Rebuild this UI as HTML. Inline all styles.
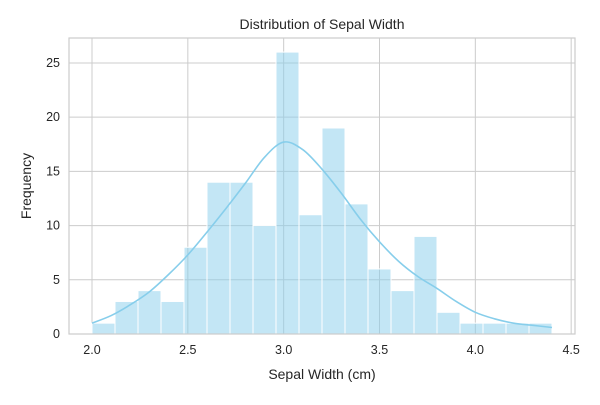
<!DOCTYPE html>
<html><head><meta charset="utf-8"><style>
body{margin:0;background:#fff;font-family:"Liberation Sans","DejaVu Sans",sans-serif;}
svg text{fill:#262626;}
</style></head><body>
<svg id="chart" width="600" height="400" xmlns="http://www.w3.org/2000/svg"></svg>
<script>
const binEdgesStart = 2.0;
const binWidth = 0.12;
const counts = [1,3,4,3,8,14,14,10,26,11,19,12,6,4,9,2,1,1,1,1];
const kdeX = [2.0,2.1,2.2,2.3,2.4,2.5,2.6,2.7,2.8,2.9,3.0,3.1,3.2,3.3,3.4,3.5,3.6,3.7,3.8,3.9,4.0,4.1,4.2,4.3,4.4];
const kdeY = [1.0,1.7,2.7,3.9,5.5,7.3,9.4,11.6,13.9,16.3,17.7,17.0,15.2,13.0,10.6,8.5,6.7,5.3,4.2,3.0,2.0,1.4,1.0,0.8,0.6];
const xTicks = [2.0,2.5,3.0,3.5,4.0,4.5];
const xTickLabels = ["2.0","2.5","3.0","3.5","4.0","4.5"];
const yTicks = [0,5,10,15,20,25];
const yTickLabels = ["0","5","10","15","20","25"];

const L=69,R=575,T=38,B=334;
const xmin=1.88,xmax=4.52,ymax=27.3;
const xs=v=>L+(v-xmin)/(xmax-xmin)*(R-L);
const ys=v=>B-v/ymax*(B-T);
const svg=document.getElementById('chart');
const NS='http://www.w3.org/2000/svg';
function mk(tag,attrs){const e=document.createElementNS(NS,tag);for(const k in attrs)e.setAttribute(k,attrs[k]);svg.appendChild(e);return e;}

xTicks.forEach((t,i)=>{
  const g=mk('line',{x1:xs(t),x2:xs(t),y1:T,y2:B,stroke:'#cccccc','stroke-width':1});
  
  
  const tx=mk('text',{x:xs(t),y:B+20,'text-anchor':'middle','font-size':12.5});
  tx.textContent=xTickLabels[i];
  
  
});
yTicks.forEach((t,i)=>{
  const g=mk('line',{x1:L,x2:R,y1:ys(t),y2:ys(t),stroke:'#cccccc','stroke-width':1});
  
  
  const tx=mk('text',{x:L-9,y:ys(t)+4,'text-anchor':'end','font-size':12.5});
  tx.textContent=yTickLabels[i];
  
  
});

counts.forEach((c,i)=>{
  const x0=binEdgesStart+i*binWidth;
  const r=mk('rect',{x:xs(x0),y:ys(c),width:xs(x0+binWidth)-xs(x0),height:B-ys(c),fill:'rgba(135,206,235,0.5)',stroke:'#fff','stroke-width':1});
  
  
});

// smooth KDE (Catmull-Rom)
const pts=kdeX.map((x,i)=>[xs(x),ys(kdeY[i])]);
let d='M'+pts[0][0].toFixed(2)+','+pts[0][1].toFixed(2);
for(let i=0;i<pts.length-1;i++){
  const p0=pts[Math.max(0,i-1)],p1=pts[i],p2=pts[i+1],p3=pts[Math.min(pts.length-1,i+2)];
  const c1=[p1[0]+(p2[0]-p0[0])/6,p1[1]+(p2[1]-p0[1])/6];
  const c2=[p2[0]-(p3[0]-p1[0])/6,p2[1]-(p3[1]-p1[1])/6];
  d+=`C${c1[0].toFixed(2)},${c1[1].toFixed(2)} ${c2[0].toFixed(2)},${c2[1].toFixed(2)} ${p2[0].toFixed(2)},${p2[1].toFixed(2)}`;
}
const kde=mk('path',{d:d,fill:'none',stroke:'#87ceeb','stroke-width':1.6});



const frame=mk('rect',{x:L,y:T,width:R-L,height:B-T,fill:'none',stroke:'#cccccc','stroke-width':1.2});



const title=mk('text',{x:(L+R)/2,y:29,'text-anchor':'middle','font-size':14});
title.textContent='Distribution of Sepal Width';


const xl=mk('text',{x:(L+R)/2,y:379,'text-anchor':'middle','font-size':14});
xl.textContent='Sepal Width (cm)';


const yl=mk('text',{x:31,y:(T+B)/2,'text-anchor':'middle','font-size':14,transform:`rotate(-90 31 ${(T+B)/2})`});
yl.textContent='Frequency';


</script>
</body></html>
